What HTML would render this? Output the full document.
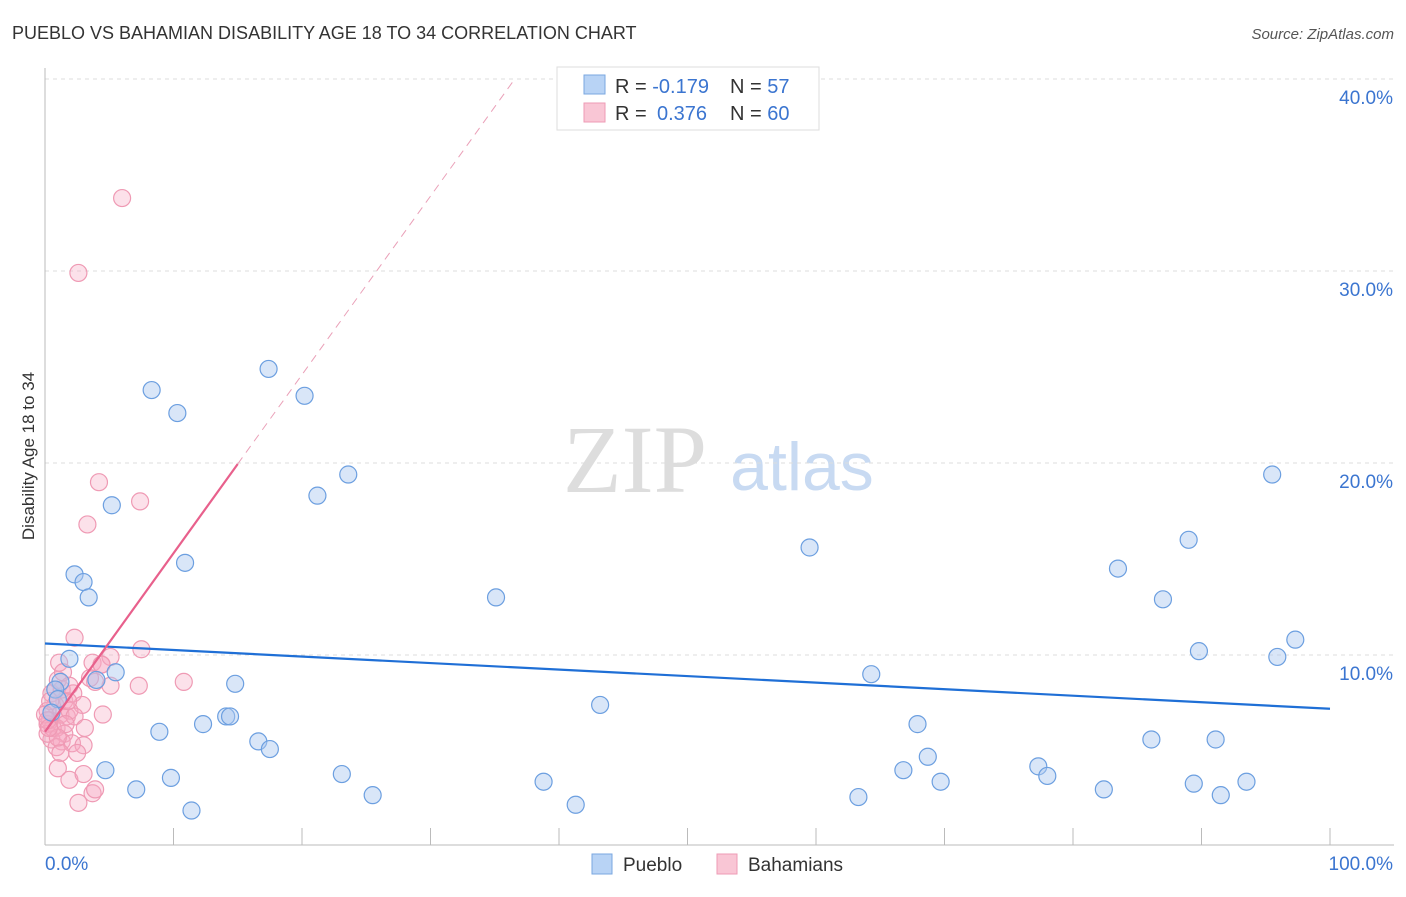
<!DOCTYPE html>
<html><head><meta charset="utf-8"><style>
body{margin:0;background:#fff;font-family:"Liberation Sans",sans-serif}
</style></head><body>
<svg id="c" width="1406" height="892" xmlns="http://www.w3.org/2000/svg">
<text x="12" y="39" font-size="18" fill="#333">PUEBLO VS BAHAMIAN DISABILITY AGE 18 TO 34 CORRELATION CHART</text>
<text x="1394" y="39" font-size="15" fill="#555" font-style="italic" text-anchor="end">Source: ZipAtlas.com</text>
<text x="34" y="456" font-size="17" fill="#333" text-anchor="middle" transform="rotate(-90 34 456)">Disability Age 18 to 34</text>
<text x="635" y="492" font-size="96" fill="#ddd" font-family="Liberation Serif,serif" text-anchor="middle">ZIP</text>
<text x="802" y="490" font-size="68" fill="#c8daf2" text-anchor="middle">atlas</text>
<g id="grid"></g><g id="pts"></g><g id="lines"></g>
<g>
<rect x="557" y="67" width="262" height="63" fill="#fff" stroke="#ddd"/>
<rect x="584" y="75" width="21" height="19" fill="#b8d3f5" stroke="#7aa7e0"/>
<rect x="584" y="103" width="21" height="19" fill="#f9c6d5" stroke="#ee9bb5"/>
<text x="615" y="93" font-size="20" fill="#333">R = <tspan fill="#3b75d0">-0.179</tspan><tspan x="730">N = </tspan><tspan fill="#3b75d0">57</tspan></text>
<text x="615" y="120" font-size="20" fill="#333">R = <tspan x="657" fill="#3b75d0">0.376</tspan><tspan x="730">N = </tspan><tspan fill="#3b75d0">60</tspan></text>
</g>
<g>
<rect x="592" y="854" width="20" height="20" fill="#b8d3f5" stroke="#7aa7e0"/>
<text x="623" y="871" font-size="19" fill="#333">Pueblo</text>
<rect x="717" y="854" width="20" height="20" fill="#f9c6d5" stroke="#ee9bb5"/>
<text x="748" y="871" font-size="19" fill="#333">Bahamians</text>
</g>
</svg>
<script>
const blueX=[8.3,10.3,17.4,20.2,23.6,21.2,5.2,10.9,2.3,3.0,3.4,1.9,1.2,4.0,5.5,14.8,8.9,12.3,14.1,14.4,16.6,17.5,4.7,7.1,9.8,11.4,23.1,25.5,35.1,38.8,41.3,43.2,59.5,64.3,63.3,66.8,67.9,68.7,69.7,77.3,78.0,82.4,83.5,86.1,87.0,89.0,89.4,89.8,91.1,91.5,93.5,95.5,95.9,97.3,0.8,1.0,0.5];
const blueY=[23.8,22.6,24.9,23.5,19.4,18.3,17.8,14.8,14.2,13.8,13.0,9.8,8.6,8.7,9.1,8.5,6.0,6.4,6.8,6.8,5.5,5.1,4.0,3.0,3.6,1.9,3.8,2.7,13.0,3.4,2.2,7.4,15.6,9.0,2.6,4.0,6.4,4.7,3.4,4.2,3.7,3.0,14.5,5.6,12.9,16.0,3.3,10.2,5.6,2.7,3.4,19.4,9.9,10.8,8.2,7.7,7.0];
const pinkX=[6.0,2.6,4.2,7.4,3.3,2.3,7.5,1.1,3.7,4.4,5.1,7.3,10.8,5.1,3.9,0.5,1.5,2.2,2.9,0.8,1.2,1.7,0.4,1.9,0.2,0.9,1.5,2.3,3.1,0.5,1.3,2.1,0.9,3.0,4.5,1.2,2.5,3.7,1.9,3.0,1.0,2.6,3.9,0.2,0.4,0.8,0.2,0.6,1.6,1.0,0.0,0.2,0.3,1.3,1.8,1.0,1.4,1.9,3.5,4.4];
const pinkY=[33.8,29.9,19.0,18.0,16.8,10.9,10.3,9.6,9.6,9.5,9.9,8.4,8.6,8.4,8.6,8.0,7.6,8.0,7.4,7.4,6.9,6.8,6.6,7.1,6.4,6.2,5.9,6.8,6.2,5.6,5.5,5.4,5.2,5.3,6.9,4.9,4.9,2.8,3.5,3.8,4.1,2.3,3.0,7.1,7.6,8.2,5.9,6.2,6.4,5.7,6.9,6.6,6.2,8.2,7.6,8.7,9.1,8.4,8.8,9.5];
const yTicks=[10,20,30,40];
const yTickLabels=["10.0%","20.0%","30.0%","40.0%"];
const blueFit=[10.6,-0.034];
const pinkFit=[6.0,0.93];
const X=v=>45+v*12.85, Y=v=>847-v*19.2;
const NS="http://www.w3.org/2000/svg";
function mk(p,t,a){const e=document.createElementNS(NS,t);for(const k in a)e.setAttribute(k,a[k]);p.appendChild(e);return e;}
const g=document.getElementById('grid');
yTicks.forEach((t,i)=>{
 const l=mk(g,'line',{x1:45,x2:1394,y1:Y(t),y2:Y(t),stroke:'#ddd','stroke-dasharray':'4,4'});
 
 
 const tx=mk(g,'text',{x:1393,y:Y(t)+25,'font-size':19,fill:'#3b75d0','text-anchor':'end'});tx.textContent=yTickLabels[i];
 
 
});
const ax=mk(g,'line',{x1:45,x2:45,y1:68,y2:845,stroke:'#bbb'});


const bx=mk(g,'line',{x1:45,x2:1394,y1:845,y2:845,stroke:'#bbb'});


for(let i=1;i<=10;i++){const tk=mk(g,'line',{x1:X(i*10),x2:X(i*10),y1:828,y2:845,stroke:'#bbb'});
 
 }
const l0=mk(g,'text',{x:45,y:870,'font-size':19,fill:'#3b75d0'});l0.textContent='0.0%';


const l1=mk(g,'text',{x:1393,y:870,'font-size':19,fill:'#3b75d0','text-anchor':'end'});l1.textContent='100.0%';


const pg=document.getElementById('pts');
pinkX.forEach((x,i)=>{const c=mk(pg,'circle',{cx:X(x),cy:Y(pinkY[i]),r:8.5,fill:'rgba(246,170,195,0.35)',stroke:'#ef9ab4','stroke-width':1.2});
 
 });
blueX.forEach((x,i)=>{const c=mk(pg,'circle',{cx:X(x),cy:Y(blueY[i]),r:8.5,fill:'rgba(170,200,240,0.45)',stroke:'#6c9fe0','stroke-width':1.2});
 
 });
const lg=document.getElementById('lines');
const bl=mk(lg,'line',{x1:X(0),y1:Y(blueFit[0]),x2:X(100),y2:Y(blueFit[0]+blueFit[1]*100),stroke:'#1f6fd6','stroke-width':2.2});


const pl=mk(lg,'line',{x1:X(0),y1:Y(pinkFit[0]),x2:X(15),y2:Y(pinkFit[0]+pinkFit[1]*15),stroke:'#e8608c','stroke-width':2.2});


const xe=(40-pinkFit[0])/pinkFit[1];
const pd=mk(lg,'line',{x1:X(15),y1:Y(pinkFit[0]+pinkFit[1]*15),x2:X(xe),y2:Y(40),stroke:'#eaa0b8','stroke-width':1,'stroke-dasharray':'8,6'});


</script>
</body></html>
